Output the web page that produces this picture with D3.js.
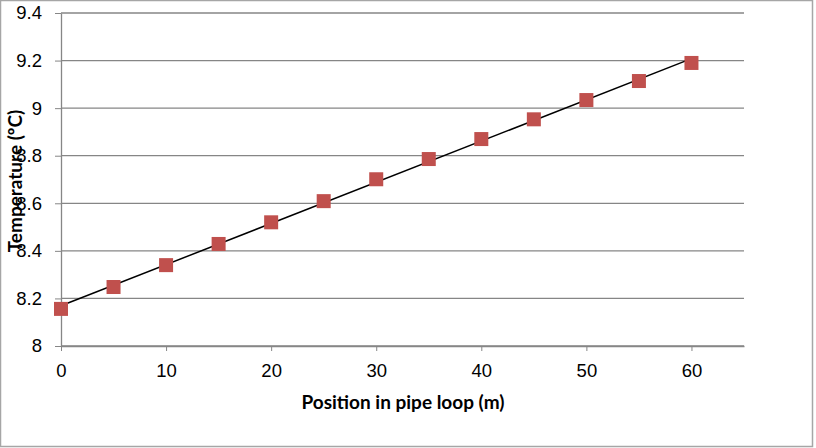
<!DOCTYPE html>
<html>
<head>
<meta charset="utf-8">
<script src="https://cdn.jsdelivr.net/npm/d3@7"></script>
<style>
  body { margin: 0; background: #fff; }
  svg { display: block; font-family: Lato, "Open Sans", sans-serif; }
  .axis text { font-size: 18.5px; fill: #000; }
  .axis path, .axis line { stroke: #868686; }
</style>
</head>
<body>
<svg id="chart"></svg>
<script>
// Position along the pipe loop (m) vs temperature (°C)
const positions = [0, 5, 10, 15, 20, 25, 30, 35, 40, 45, 50, 55, 60];
const temperatures = [8.156, 8.248, 8.340, 8.429, 8.520, 8.609, 8.701, 8.786, 8.870, 8.953, 9.034, 9.114, 9.190];
const xTicks = [0, 10, 20, 30, 40, 50, 60];
const yTicks = [8, 8.2, 8.4, 8.6, 8.8, 9, 9.2, 9.4];

const width = 816;
const height = 448;
const margin = { top: 13, right: 72, bottom: 102, left: 61 };
const innerW = width - margin.left - margin.right;
const innerH = height - margin.top - margin.bottom;

const data = positions.map((p, i) => ({ x: p, y: temperatures[i] }));

const svg = d3.select('#chart')
  .attr('width', width)
  .attr('height', height);

// outer chart border
svg.append('rect')
  .attr('x', 0.5)
  .attr('y', 0.5)
  .attr('width', 812)
  .attr('height', 446)
  .attr('fill', 'none')
  .attr('stroke', '#a6a6a6')
  .attr('stroke-width', 1.5);

const chart = svg.append('g')
  .attr('transform', `translate(${margin.left},${margin.top})`);

const xScale = d3.scaleLinear().domain([0, 65]).range([0, innerW]);
const yScale = d3.scaleLinear().domain([8, 9.4]).range([innerH, 0]);

// horizontal gridlines
chart.append('g')
  .selectAll('line')
  .data(yTicks)
  .join('line')
  .attr('x1', 0)
  .attr('x2', innerW)
  .attr('y1', (d) => yScale(d))
  .attr('y2', (d) => yScale(d))
  .attr('stroke', '#868686')
  .attr('stroke-width', 1.3);

const xAxis = d3.axisBottom(xScale)
  .tickValues(xTicks)
  .tickSizeInner(5)
  .tickSizeOuter(0)
  .tickPadding(13)
  .tickFormat(d3.format('d'));

const yAxis = d3.axisLeft(yScale)
  .tickValues(yTicks)
  .tickSizeInner(6)
  .tickSizeOuter(0)
  .tickPadding(13)
  .tickFormat((d) => String(+d.toFixed(1)));

chart.append('g')
  .attr('class', 'axis x-axis')
  .attr('transform', `translate(0,${innerH})`)
  .call(xAxis)
  .call((g) => g.select('.domain').attr('stroke-width', 1.3));

chart.append('g')
  .attr('class', 'axis y-axis')
  .call(yAxis)
  .call((g) => g.select('.domain').attr('stroke-width', 1.3));

// linear trendline (least squares on the data)
const mx = d3.mean(data, (d) => d.x);
const my = d3.mean(data, (d) => d.y);
const slope = d3.sum(data, (d) => (d.x - mx) * (d.y - my)) / d3.sum(data, (d) => (d.x - mx) ** 2);
const intercept = my - slope * mx;
const xExt = d3.extent(positions);

chart.append('line')
  .attr('x1', xScale(xExt[0]))
  .attr('x2', xScale(xExt[1]))
  .attr('y1', yScale(intercept + slope * xExt[0]))
  .attr('y2', yScale(intercept + slope * xExt[1]))
  .attr('stroke', '#000')
  .attr('stroke-width', 1.5);

// square markers
const size = 14;
chart.append('g')
  .selectAll('rect')
  .data(data)
  .join('rect')
  .attr('x', (d) => xScale(d.x) - size / 2)
  .attr('y', (d) => yScale(d.y) - size / 2)
  .attr('width', size)
  .attr('height', size)
  .attr('fill', '#c0504d');

// axis titles
svg.append('text')
  .attr('x', 403)
  .attr('y', 409)
  .attr('text-anchor', 'middle')
  .attr('font-size', 19)
  .attr('font-weight', 'bold')
  .text('Position in pipe loop (m)');

svg.append('text')
  .attr('transform', 'translate(22,181) rotate(-90)')
  .attr('text-anchor', 'middle')
  .attr('font-size', 19)
  .attr('font-weight', 'bold')
  .text('Temperature (ºC)');
</script>
</body>
</html>
